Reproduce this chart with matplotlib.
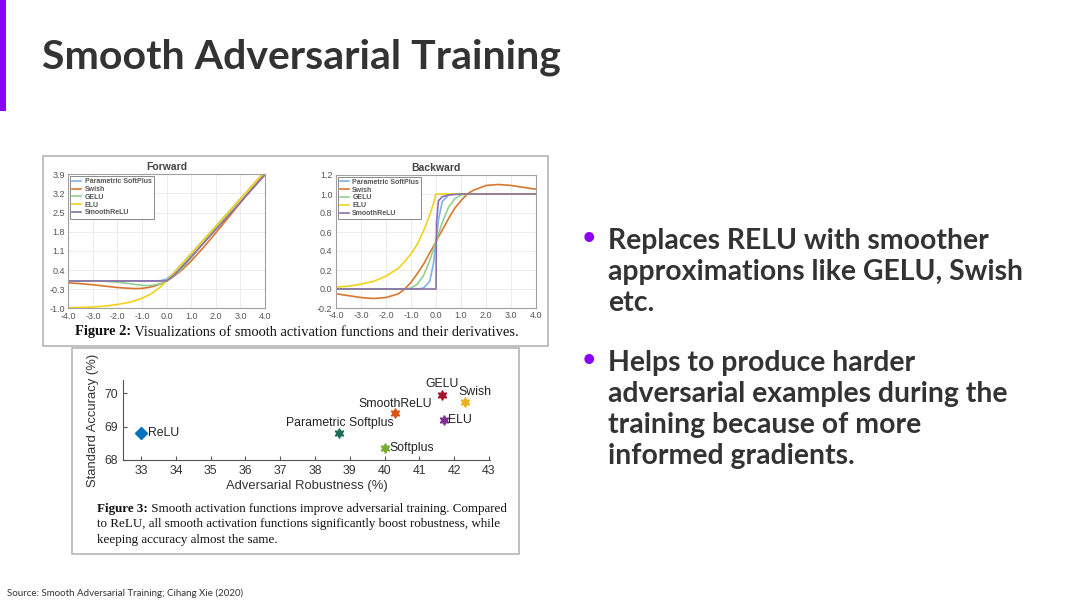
import matplotlib
matplotlib.use("Agg")
import matplotlib.pyplot as plt
from matplotlib.patches import Rectangle

plt.rcParams["font.family"] = ["Liberation Sans", "DejaVu Sans"]

W, H = 1080, 608

# Figure 2 data
x_fwd = [-4, -3.5, -3, -2.5, -2, -1.5, -1.25, -1, -0.75, -0.5, -0.25, 0, 0.25, 0.5, 0.75, 1, 1.5, 2, 2.5, 3, 3.5, 4]
psoftplus_fwd = [0, 0, 0, 0, 0, 0, 0, 0, 0, 0.002, 0.01, 0.07, 0.26, 0.5, 0.75, 1.0, 1.5, 2.0, 2.5, 3.0, 3.5, 4.0]
swish_fwd = [-0.07, -0.1, -0.14, -0.19, -0.24, -0.27, -0.28, -0.27, -0.24, -0.19, -0.11, 0, 0.14, 0.31, 0.51, 0.73, 1.23, 1.76, 2.31, 2.86, 3.4, 3.93]
gelu_fwd = [0, 0, -0.004, -0.016, -0.045, -0.1, -0.13, -0.16, -0.17, -0.15, -0.1, 0, 0.15, 0.35, 0.58, 0.84, 1.4, 1.95, 2.48, 3.0, 3.5, 4.0]
elu_fwd = [-0.98, -0.97, -0.95, -0.92, -0.86, -0.78, -0.71, -0.63, -0.53, -0.39, -0.22, 0, 0.25, 0.5, 0.75, 1.0, 1.5, 2.0, 2.5, 3.0, 3.5, 4.0]
smoothrelu_fwd = [0, 0, 0, 0, 0, 0, 0, 0, 0, 0, 0, 0, 0.17, 0.4, 0.64, 0.89, 1.38, 1.88, 2.38, 2.88, 3.38, 3.88]

x_bwd = [-4, -3.5, -3, -2.5, -2, -1.5, -1.25, -1, -0.75, -0.5, -0.25, -0.1, 0, 0.1, 0.25, 0.5, 0.75, 1, 1.25, 1.5, 2, 2.5, 3, 3.5, 4]
psoftplus_bwd = [0, 0, 0, 0, 0, 0, 0, 0, 0, 0.01, 0.08, 0.27, 0.5, 0.73, 0.92, 0.99, 1, 1, 1, 1, 1, 1, 1, 1, 1]
swish_bwd = [-0.05, -0.07, -0.09, -0.1, -0.09, -0.05, 0.0, 0.07, 0.16, 0.26, 0.38, 0.45, 0.5, 0.55, 0.62, 0.74, 0.85, 0.93, 1.0, 1.04, 1.09, 1.1, 1.09, 1.07, 1.05]
gelu_bwd = [0, 0, 0, 0, 0, 0, 0, 0.01, 0.05, 0.14, 0.3, 0.42, 0.5, 0.58, 0.7, 0.86, 0.95, 0.99, 1, 1, 1, 1, 1, 1, 1]
elu_bwd = [0.02, 0.03, 0.05, 0.08, 0.135, 0.22, 0.29, 0.37, 0.47, 0.61, 0.78, 0.9, 1.0, 1, 1, 1, 1, 1, 1, 1, 1, 1, 1, 1, 1]
x_smooth_bwd = [-4, 0, 0.02, 0.1, 0.25, 0.5, 1, 4]
smoothrelu_bwd = [0, 0, 0.7, 0.93, 0.97, 0.99, 1.0, 1.0]

act_names = ["Parametric SoftPlus", "Swish", "GELU", "ELU", "SmoothReLU"]
act_colors = ["#7fb2e5", "#d9772e", "#93cf93", "#f2d31b", "#8a6fa6"]

# Figure 3 data
methods = ["ReLU", "Parametric Softplus", "Softplus", "SmoothReLU", "GELU", "ELU", "Swish"]
robustness = [33.0, 38.7, 40.0, 40.3, 41.65, 41.7, 42.3]
accuracy = [68.8, 68.8, 68.35, 69.4, 69.95, 69.2, 69.75]
pt_colors = ["#0072bd", "#1a6e55", "#77ac30", "#d95319", "#a2142f", "#7e2f8e", "#edb120"]

title = "Smooth Adversarial Training"
bullets = [
    ["Replaces RELU with smoother", "approximations like GELU, Swish", "etc."],
    ["Helps to produce harder", "adversarial examples during the", "training because of more", "informed gradients."],
]
source = "Source: Smooth Adversarial Training; Cihang Xie (2020)"
cap2 = ("Figure 2:", " Visualizations of smooth activation functions and their derivatives.")
cap3 = [("Figure 3:", " Smooth activation functions improve adversarial training. Compared"),
        ("", "to ReLU, all smooth activation functions significantly boost robustness, while"),
        ("", "keeping accuracy almost the same.")]

fig = plt.figure(figsize=(W / 100, H / 100), dpi=100)
fig.patch.set_facecolor("white")
renderer = fig.canvas.get_renderer()


def px_axes(x0, y0, x1, y1):
    return fig.add_axes([x0 / W, 1 - y1 / H, (x1 - x0) / W, (y1 - y0) / H])


def px_text(x, y, s, **kw):
    return fig.text(x / W, 1 - y / H, s, **kw)


def px_rect(x0, y0, x1, y1, **kw):
    r = Rectangle((x0 / W, 1 - y1 / H), (x1 - x0) / W, (y1 - y0) / H,
                  transform=fig.transFigure, **kw)
    fig.patches.append(r)


def caption(x, y, bold, rest, size, center=False):
    kw = dict(fontsize=size, family="Liberation Serif", color="#111111", va="center", ha="left")
    t1 = px_text(x, y, bold, fontweight="bold", **kw)
    t2 = px_text(x, y, rest, **kw)
    w1 = t1.get_window_extent(renderer).width if bold else 0
    w2 = t2.get_window_extent(renderer).width
    x0 = x - (w1 + w2) / 2 if center else x
    t1.set_x(x0 / W)
    t2.set_x((x0 + w1) / W)


# slide decoration
px_rect(0, 0, 6, 111, facecolor="#8b00f5", edgecolor="none")
px_text(42, 57, title, fontsize=29.5, fontweight="bold", family="Lato",
        color="#333333", va="center", ha="left")

# figure frames
px_rect(43, 156, 548, 346, facecolor="none", edgecolor="#b5b5b5", lw=1.2)
px_rect(72, 348, 519, 554, facecolor="none", edgecolor="#b5b5b5", lw=1.2)


def style_act(ax, xlim, ylim, yticks, name):
    ax.set_xlim(*xlim)
    ax.set_ylim(*ylim)
    ax.set_xticks([-4, -3, -2, -1, 0, 1, 2, 3, 4])
    ax.set_xticklabels(["%.1f" % v for v in ax.get_xticks()])
    ax.set_yticks(yticks)
    ax.set_yticklabels(["%.1f" % v for v in yticks])
    ax.tick_params(length=0, labelsize=6.5, labelcolor="#555555", pad=2.5)
    ax.grid(color="#e8e8ee", lw=0.6)
    ax.set_axisbelow(True)
    for s in ax.spines.values():
        s.set_color("#a0a0a0")
        s.set_linewidth(0.8)
    ax.set_title(name, fontsize=7.5, fontweight="bold", color="#444444", pad=3)
    leg = ax.legend(loc="upper left", handlelength=1.3, handletextpad=0.5,
                    labelspacing=0.12, borderpad=0.3, borderaxespad=0.25,
                    fancybox=False, framealpha=1, edgecolor="#777777",
                    prop={"size": 5.0, "weight": "bold", "family": "Liberation Sans"})
    leg.get_frame().set_linewidth(0.6)
    for t in leg.get_texts():
        t.set_color("#555555")


ax1 = px_axes(68.3, 174.3, 265, 308.3)
fwd_series = [psoftplus_fwd, swish_fwd, gelu_fwd, elu_fwd, smoothrelu_fwd]
for ys, n, c in zip(fwd_series, act_names, act_colors):
    ax1.plot(x_fwd, ys, color=c, lw=1.2, label=n)
style_act(ax1, (-4, 4), (-1.0, 3.9), [-1.0, -0.3, 0.4, 1.1, 1.8, 2.5, 3.2, 3.9], "Forward")

ax2 = px_axes(336, 175, 536, 308)
bwd_x = [x_bwd, x_bwd, x_bwd, x_bwd, x_smooth_bwd]
bwd_series = [psoftplus_bwd, swish_bwd, gelu_bwd, elu_bwd, smoothrelu_bwd]
for xs, ys, n, c in zip(bwd_x, bwd_series, act_names, act_colors):
    ax2.plot(xs, ys, color=c, lw=1.2, label=n)
style_act(ax2, (-4, 4), (-0.2, 1.2), [-0.2, 0.0, 0.2, 0.4, 0.6, 0.8, 1.0, 1.2], "Backward")

caption(297, 332, cap2[0], cap2[1], 10.4, center=True)

# figure 3 scatter
ax3 = px_axes(123, 380, 490, 460)
for xv, yv, m, c in zip(robustness, accuracy, methods, pt_colors):
    if m == "ReLU":
        ax3.plot(xv, yv, marker="D", ms=6.5, color=c, ls="none")
    else:
        ax3.plot(xv, yv, marker=(6, 1, 0), ms=7, color=c, ls="none")

lab_off = {"ReLU": (7, 0, "left", "center"),
           "Parametric Softplus": (0, 4, "center", "bottom"),
           "Softplus": (5, 0, "left", "center"),
           "SmoothReLU": (0, 3, "center", "bottom"),
           "GELU": (0, 5, "center", "bottom"),
           "ELU": (4, 0, "left", "center"),
           "Swish": (10, 10, "center", "center")}
for xv, yv, m in zip(robustness, accuracy, methods):
    dx, dy, ha, va = lab_off[m]
    ax3.annotate(m, (xv, yv), xytext=(dx, dy), textcoords="offset pixels",
                 fontsize=8.8, color="#222222", ha=ha, va=va)

ax3.set_xlim(32.48, 43.03)
ax3.set_ylim(68, 70.4)
ax3.set_xticks(range(33, 44))
ax3.set_yticks([68, 69, 70])
ax3.spines["top"].set_visible(False)
ax3.spines["right"].set_visible(False)
for s in ("left", "bottom"):
    ax3.spines[s].set_color("#555555")
    ax3.spines[s].set_linewidth(0.8)
ax3.tick_params(direction="in", length=3, labelsize=8.8, labelcolor="#333333", color="#555555")
ax3.set_xlabel("Adversarial Robustness (%)", fontsize=9.4, color="#333333", labelpad=2)
ax3.set_ylabel("Standard Accuracy (%)", fontsize=9.4, color="#333333", labelpad=4)

for i, (b, r) in enumerate(cap3):
    caption(97, 509 + i * 15.5, b, r, 9.4)

# bullets
starts = [241, 363]
for block, y0 in zip(bullets, starts):
    px_text(589, y0 - 1, "\u2022", fontsize=26, color="#8b00f5", ha="center", va="center")
    for i, line in enumerate(block):
        px_text(608, y0 + i * 31, line, fontsize=20.4, fontweight="bold", family="Lato",
                color="#333333", ha="left", va="center")

px_text(7, 593, source, fontsize=7, family="Lato", color="#333333", ha="left", va="center")

fig.savefig("out.png", dpi=100)
